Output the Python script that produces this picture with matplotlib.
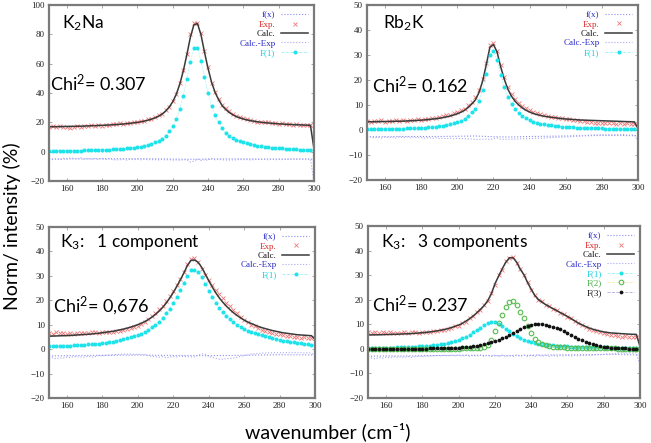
import numpy as np
import matplotlib
matplotlib.use('Agg')
import matplotlib.pyplot as plt

plt.rcParams['mathtext.fontset'] = 'custom'
plt.rcParams['mathtext.rm'] = 'Lato'
plt.rcParams['mathtext.it'] = 'Lato'

# wavenumber grid (cm-1) of the fitted spectra and of the f(x) curve
wn = np.arange(150, 301, 2)
wn_fx = np.arange(150, 301, 10)

# ---- K2Na ----
f1_k2na = [0.5, 0.5, 0.55, 0.6, 0.6, 0.65, 0.7, 0.7, 0.75, 0.8,
           0.85, 0.9, 1.0, 1.05, 1.1, 1.2, 1.3, 1.4, 1.5, 1.65,
           1.8, 2.0, 2.2, 2.45, 2.75, 3.1, 3.5, 4.0, 4.6, 5.4,
           6.3, 7.5, 9.0, 11.0, 13.8, 17.3, 22.2, 29.0, 38.0, 49.5,
           61.5, 70.5, 71.0, 62.0, 51.0, 40.0, 31.5, 25.0, 20.0, 16.0,
           12.5, 10.8, 9.4, 8.2, 7.2, 6.4, 5.7, 5.1, 4.6, 4.1,
           3.7, 3.4, 3.1, 2.8, 2.6, 2.4, 2.2, 2.0, 1.85, 1.7,
           1.55, 1.4, 1.3, 1.2, 1.1, 1.0]
calc_k2na = [17.0, 17.0, 17.1, 17.1, 17.2, 17.2, 17.3, 17.3, 17.4, 17.4,
             17.5, 17.6, 17.7, 17.8, 17.9, 18.0, 18.1, 18.2, 18.4, 18.5,
             18.7, 18.9, 19.1, 19.4, 19.7, 20.0, 20.4, 20.9, 21.5, 22.2,
             23.1, 24.2, 25.7, 27.7, 30.4, 34.0, 39.0, 46.0, 55.0, 66.0,
             78.0, 86.5, 87.5, 80.0, 68.0, 57.0, 47.5, 40.5, 35.5, 31.5,
             28.8, 26.8, 25.2, 24.0, 23.1, 22.3, 21.7, 21.2, 20.8, 20.4,
             20.1, 19.8, 19.6, 19.4, 19.2, 19.0, 18.9, 18.7, 18.6, 18.5,
             18.4, 18.3, 18.2, 18.1, 18.0, 2.0]
exp_k2na = [16.8, 17.4, 16.9, 17.6, 16.7, 17.0, 16.5, 16.9, 17.2, 16.6,
            17.8, 17.3, 17.9, 17.4, 18.2, 17.6, 18.5, 18.0, 18.9, 19.0,
            19.3, 19.0, 19.8, 19.5, 20.2, 20.1, 20.9, 21.0, 22.0, 22.6,
            23.5, 24.8, 26.0, 28.3, 30.8, 34.8, 39.6, 46.8, 55.5, 66.5,
            80.0, 88.0, 87.5, 81.0, 68.5, 57.8, 47.0, 41.0, 35.8, 32.0,
            29.5, 27.5, 25.8, 24.6, 23.4, 22.8, 22.0, 21.8, 21.2, 20.6,
            20.5, 20.0, 20.1, 19.5, 19.7, 19.2, 19.3, 18.8, 18.9, 18.4,
            18.6, 18.2, 18.4, 18.0, 18.1, 17.9]
fx_k2na = [-5.0, -5.0, -4.9, -4.8, -4.8, -4.8, -4.9, -5.0, -5.2, -5.0,
           -4.9, -4.9, -5.0, -5.0, -5.0, -5.1]

# ---- Rb2K ----
f1_rb2k = [0.3, 0.3, 0.3, 0.35, 0.35, 0.4, 0.4, 0.45, 0.5, 0.5,
           0.55, 0.6, 0.65, 0.7, 0.8, 0.85, 0.95, 1.05, 1.15, 1.3,
           1.45, 1.65, 1.9, 2.2, 2.6, 3.1, 3.7, 4.5, 5.6, 7.0,
           8.5, 11.5, 16.0, 22.5, 30.0, 31.5, 28.0, 22.0, 17.0, 13.0,
           10.2, 8.2, 6.7, 5.5, 4.6, 3.9, 3.3, 2.9, 2.5, 2.2,
           2.0, 1.8, 1.6, 1.45, 1.3, 1.2, 1.1, 1.0, 0.95, 0.9,
           0.85, 0.8, 0.75, 0.7, 0.65, 0.6, 0.57, 0.54, 0.51, 0.48,
           0.45, 0.43, 0.41, 0.39, 0.37, 0.35]
calc_rb2k = [3.3, 3.3, 3.3, 3.35, 3.35, 3.4, 3.4, 3.45, 3.5, 3.5,
             3.55, 3.6, 3.7, 3.75, 3.85, 3.95, 4.05, 4.2, 4.35, 4.5,
             4.7, 4.95, 5.25, 5.6, 6.0, 6.5, 7.1, 7.9, 9.0, 10.4,
             12.0, 15.0, 19.5, 26.0, 33.0, 34.2, 31.2, 25.3, 20.3, 16.3,
             13.5, 11.5, 10.0, 8.8, 7.9, 7.2, 6.6, 6.2, 5.8, 5.5,
             5.3, 5.1, 4.9, 4.7, 4.55, 4.4, 4.3, 4.2, 4.1, 4.0,
             3.95, 3.9, 3.85, 3.8, 3.75, 3.7, 3.65, 3.6, 3.55, 3.5,
             3.45, 3.4, 3.35, 3.3, 3.25, 0.6]
exp_rb2k = [3.6, 3.2, 3.7, 3.4, 3.8, 3.3, 3.7, 3.5, 3.9, 3.4,
            3.8, 3.6, 4.0, 3.8, 4.2, 4.1, 4.5, 4.4, 4.9, 4.8,
            5.3, 5.4, 5.9, 6.1, 6.7, 7.0, 7.8, 8.5, 9.8, 11.2,
            13.0, 16.0, 20.4, 26.8, 34.0, 34.8, 31.6, 26.2, 21.2, 17.2,
            14.4, 12.3, 10.8, 9.5, 8.6, 7.8, 7.2, 6.7, 6.3, 5.9,
            5.6, 5.3, 5.1, 4.8, 4.6, 4.4, 4.2, 4.0, 3.8, 3.6,
            3.4, 3.2, 3.1, 2.9, 2.9, 2.7, 2.8, 2.6, 2.7, 2.5,
            2.6, 2.4, 2.6, 2.5, 2.4, 2.3]
fx_rb2k = [-2.7, -2.7, -2.6, -2.6, -2.6, -2.5, -2.4, -2.7, -2.8, -2.6,
           -2.5, -2.4, -2.3, -2.2, -2.2, -2.3]

# ---- K3, 1 component ----
f1_k3a = [1.1, 1.15, 1.2, 1.25, 1.3, 1.35, 1.4, 1.5, 1.6, 1.7,
          1.8, 1.9, 2.0, 2.15, 2.3, 2.5, 2.7, 2.9, 3.1, 3.4,
          3.7, 4.0, 4.4, 4.8, 5.3, 5.8, 6.4, 7.1, 7.9, 8.9,
          10.0, 11.3, 12.8, 14.6, 16.6, 18.9, 21.4, 24.1, 26.9, 30.0,
          32.2, 32.4, 31.5, 29.5, 26.8, 24.0, 21.4, 19.0, 17.0, 15.2,
          13.6, 12.2, 11.0, 10.0, 9.1, 8.3, 7.6, 7.0, 6.5, 6.0,
          5.6, 5.2, 4.8, 4.4, 4.1, 3.8, 3.5, 3.3, 3.0, 2.8,
          2.6, 2.4, 2.2, 2.0, 1.8, 1.6]
calc_k3a = [5.3, 5.35, 5.4, 5.45, 5.5, 5.55, 5.6, 5.7, 5.8, 5.9,
            6.0, 6.1, 6.2, 6.35, 6.5, 6.7, 6.9, 7.1, 7.3, 7.6,
            7.9, 8.2, 8.6, 9.0, 9.5, 10.0, 10.6, 11.3, 12.1, 13.1,
            14.2, 15.5, 17.0, 18.8, 20.8, 23.1, 25.6, 28.3, 31.1, 34.2,
            36.3, 36.5, 35.6, 33.6, 30.9, 28.1, 25.5, 23.1, 21.0, 19.2,
            17.6, 16.2, 14.9, 13.8, 12.8, 11.9, 11.1, 10.5, 9.9, 9.3,
            8.8, 8.4, 8.0, 7.6, 7.3, 7.0, 6.7, 6.5, 6.3, 6.1,
            5.9, 5.8, 5.7, 5.6, 5.5, 4.0]
exp_k3a = [6.8, 6.4, 6.9, 6.5, 6.7, 6.3, 6.6, 6.2, 6.5, 6.6,
           6.8, 6.5, 7.0, 6.9, 6.6, 7.0, 6.9, 7.0, 7.1, 7.3,
           7.5, 7.7, 8.2, 8.5, 9.2, 9.6, 10.4, 11.0, 12.3, 13.5,
           14.8, 16.3, 17.6, 19.8, 21.6, 23.6, 26.3, 28.6, 31.6, 34.8,
           37.0, 37.2, 35.6, 33.0, 30.5, 28.5, 26.4, 24.4, 22.6, 20.8,
           19.0, 17.5, 16.0, 14.6, 13.3, 12.0, 11.0, 10.0, 9.3, 8.6,
           7.9, 7.5, 7.0, 6.6, 6.3, 6.0, 5.7, 5.4, 5.3, 5.0,
           4.9, 4.7, 4.8, 4.5, 4.6, 4.4]
fx_k3a = [-2.8, -2.7, -2.6, -2.5, -2.5, -2.4, -2.5, -2.6, -2.6, -2.7,
          -2.6, -2.5, -2.4, -2.3, -2.3, -2.4]

# ---- K3, 3 components ----
f1_k3b = [0.35, 0.38, 0.4, 0.42, 0.45, 0.48, 0.5, 0.55, 0.6, 0.65,
          0.7, 0.75, 0.8, 0.9, 1.0, 1.1, 1.2, 1.35, 1.5, 1.7,
          1.9, 2.15, 2.45, 2.8, 3.2, 3.7, 4.3, 5.0, 5.8, 6.7,
          7.7, 8.7, 9.7, 10.5, 11.0, 10.9, 10.3, 9.4, 8.3, 7.1,
          6.0, 5.1, 4.3, 3.7, 3.2, 2.8, 2.45, 2.15, 1.9, 1.7,
          1.55, 1.4, 1.3, 1.2, 1.1, 1.0, 0.95, 0.9, 0.85, 0.8,
          0.75, 0.7, 0.68, 0.65, 0.62, 0.6, 0.58, 0.56, 0.54, 0.52,
          0.5, 0.48, 0.46, 0.44, 0.42, 0.4]
f2_k3b = [0.02, 0.02, 0.02, 0.02, 0.03, 0.03, 0.03, 0.03, 0.03, 0.04,
          0.04, 0.04, 0.05, 0.05, 0.05, 0.06, 0.06, 0.07, 0.07, 0.08,
          0.08, 0.09, 0.1, 0.11, 0.13, 0.15, 0.18, 0.22, 0.27, 0.33,
          0.42, 0.55, 0.85, 1.7, 3.6, 7.3, 10.5, 13.8, 17.0, 19.2,
          19.5, 17.8, 15.0, 12.7, 9.4, 6.6, 4.0, 2.6, 1.9, 1.4,
          1.15, 0.95, 0.8, 0.7, 0.6, 0.52, 0.46, 0.41, 0.37, 0.33,
          0.3, 0.27, 0.25, 0.23, 0.21, 0.19, 0.18, 0.17, 0.16, 0.15,
          0.14, 0.13, 0.12, 0.11, 0.1, 0.1]
f3_k3b = [0.02, 0.02, 0.02, 0.03, 0.03, 0.03, 0.04, 0.04, 0.05, 0.05,
          0.06, 0.07, 0.08, 0.09, 0.1, 0.12, 0.14, 0.16, 0.19, 0.22,
          0.26, 0.3, 0.35, 0.41, 0.48, 0.56, 0.66, 0.78, 0.92, 1.1,
          1.3, 1.55, 1.85, 2.2, 2.6, 3.1, 3.7, 4.3, 5.0, 5.8,
          6.6, 7.4, 8.1, 8.8, 9.4, 9.9, 10.2, 10.3, 10.2, 9.9,
          9.5, 9.0, 8.5, 7.9, 7.3, 6.6, 5.8, 5.0, 4.2, 3.5,
          2.9, 2.3, 1.8, 1.4, 1.1, 0.85, 0.65, 0.5, 0.38, 0.3,
          0.23, 0.18, 0.14, 0.11, 0.09, 0.07]
calc_k3b = [5.7, 5.7, 5.72, 5.75, 5.8, 5.85, 5.87, 5.92, 5.98, 6.04,
            6.1, 6.16, 6.23, 6.34, 6.46, 6.58, 6.7, 6.9, 7.08, 7.32,
            7.57, 7.88, 8.25, 8.69, 9.19, 9.7, 10.4, 11.3, 12.3, 13.4,
            14.7, 16.1, 17.6, 19.6, 22.4, 26.5, 29.6, 32.6, 35.3, 37.1,
            37.1, 35.3, 32.4, 30.2, 27.0, 24.3, 21.7, 20.1, 19.0, 18.0,
            17.2, 16.4, 15.6, 14.8, 14.0, 13.2, 12.3, 11.4, 10.5, 9.8,
            9.1, 8.5, 8.0, 7.6, 7.2, 6.9, 6.7, 6.5, 6.4, 6.3,
            6.2, 6.1, 6.0, 5.95, 5.9, 1.0]
exp_k3b = [6.9, 6.6, 7.0, 6.5, 6.8, 6.4, 6.7, 6.3, 6.6, 6.5,
           6.8, 6.4, 6.9, 6.7, 6.6, 6.9, 6.8, 7.0, 7.1, 7.2,
           7.6, 7.7, 8.3, 8.5, 9.2, 9.5, 10.6, 11.0, 12.5, 13.2,
           14.9, 15.8, 17.9, 19.3, 22.7, 26.1, 29.9, 32.3, 35.6, 37.0,
           37.4, 35.0, 32.7, 29.9, 27.3, 24.0, 22.0, 19.8, 19.3, 17.8,
           17.5, 16.2, 15.9, 14.6, 14.2, 13.0, 12.5, 11.2, 10.6, 9.6,
           9.0, 8.2, 7.8, 7.1, 6.8, 6.3, 5.9, 5.8, 5.5, 5.3,
           5.0, 5.1, 4.8, 4.9, 4.7, 4.6]
fx_k3b = [-3.0, -2.9, -2.9, -2.8, -2.7, -2.6, -2.6, -2.8, -2.7, -2.6,
          -2.5, -2.4, -2.4, -2.3, -2.3, -2.5]

comp_styles = [
    dict(label='F(1)', color='#1ee3ea', lc='#9af2f6', marker='o', ms=2.9, mew=0, tc='#10d0e0'),
    dict(label='F(2)', color='#55bb55', lc='#eeeeaa', marker='o', ms=3.3, mew=0.8, tc='#40b040', mfc='none'),
    dict(label='F(3)', color='#111111', lc='#aaaadd', marker='o', ms=2.7, mew=0, tc='#111111'),
]

fig = plt.figure(figsize=(6.51, 4.43), dpi=100)


def panel(rect, ylim, ystep, comps, calc, exp, fx, shift, name, chi, name_pos, chi_pos):
    ax = fig.add_axes(rect)
    calc = np.array(calc)
    exp = np.array(exp)
    resid = calc - exp + shift
    h_fx, = ax.plot(wn_fx, fx, ls=':', color='#8c8cf0', lw=0.8)
    h_exp, = ax.plot(wn, exp, 'x', color='#f07878', ms=3.0, mew=0.6)
    h_calc, = ax.plot(wn, calc, '-', color='#3a3a3a', lw=1.1)
    h_res, = ax.plot(wn, resid, ls=':', color='#a8a8f4', lw=0.8)
    handles = [h_fx, h_exp, h_calc, h_res]
    labels = ['f(x)', 'Exp.', 'Calc.', 'Calc.-Exp']
    colors = ['#2828c8', '#d82828', '#111111', '#2828c8']
    for vals, st in zip(comps, comp_styles):
        ax.plot(wn, vals, ls='--', lw=0.4, color=st['lc'])
        ax.plot(wn, vals, ls='none', marker=st['marker'], ms=st['ms'], mew=st['mew'],
                mfc=st.get('mfc', st['color']), mec=st['color'])
        h, = ax.plot([], [], marker=st['marker'], ms=st['ms'], mew=st['mew'],
                     mfc=st.get('mfc', st['color']), mec=st['color'],
                     ls='--', lw=0.6, color=st['lc'])
        handles.append(h)
        labels.append(st['label'])
        colors.append(st['tc'])
    ax.set_xlim(150, 300)
    ax.set_ylim(*ylim)
    ax.set_xticks(np.arange(160, 301, 20))
    ax.set_yticks(np.arange(ylim[0], ylim[1] + 1, ystep))
    ax.tick_params(direction='in', length=2.5, width=0.6, top=True, right=True,
                   labelsize=6.5, colors='#999999', labelcolor='#222222', pad=3)
    for lab in ax.get_xticklabels() + ax.get_yticklabels():
        lab.set_family('Liberation Serif')
    for sp in ax.spines.values():
        sp.set_color('#7a7a7a')
        sp.set_linewidth(1.6)
    leg = ax.legend(handles, labels, loc='upper right', frameon=False, markerfirst=False,
                    prop={'family': 'Liberation Serif', 'size': 6.5}, handlelength=3.0,
                    handletextpad=0.6, labelspacing=0.12, borderaxespad=0.45,
                    borderpad=0.2)
    for t, c in zip(leg.get_texts(), colors):
        t.set_color(c)
    ax.text(name_pos[0], name_pos[1], name, transform=ax.transAxes, fontsize=12.5,
            family='Lato', va='baseline', ha='left')
    ax.text(chi_pos[0], chi_pos[1], chi, transform=ax.transAxes, fontsize=13,
            family='Lato', va='baseline', ha='left')
    return ax


panel([0.0753, 0.5914, 0.407, 0.397], (-20, 100), 20, [f1_k2na],
      calc_k2na, exp_k2na, fx_k2na, -5.0, 'K$_2$Na', 'Chi$^2$= 0.307',
      (0.05, 0.87), (0.004, 0.513))
panel([0.5637, 0.5937, 0.4163, 0.395], (-20, 50), 10, [f1_rb2k],
      calc_rb2k, exp_rb2k, fx_rb2k, -2.8, 'Rb$_2$K', 'Chi$^2$= 0.162',
      (0.059, 0.869), (0.018, 0.497))
panel([0.0753, 0.1016, 0.4086, 0.386], (-20, 50), 10, [f1_k3a],
      calc_k3a, exp_k3a, fx_k3a, -2.5, 'K$_3$:   1 component', 'Chi$^2$= 0,676',
      (0.041, 0.883), (0.015, 0.503))
panel([0.5653, 0.1016, 0.4178, 0.388], (-20, 50), 10, [f1_k3b, f2_k3b, f3_k3b],
      calc_k3b, exp_k3b, fx_k3b, -2.8, 'K$_3$:   3 components', 'Chi$^2$= 0.237',
      (0.048, 0.878), (0.015, 0.5))

fig.text(0.018, 0.49, 'Norm/ intensity (%)', rotation=90, fontsize=14,
         family=['Lato', 'DejaVu Sans'], ha='center', va='center')
fig.text(0.504, 0.012, 'wavenumber (cm\u207b\u00b9)', fontsize=14,
         family=['Lato', 'DejaVu Sans'], ha='center', va='baseline')

fig.savefig('out.png', dpi=100)
